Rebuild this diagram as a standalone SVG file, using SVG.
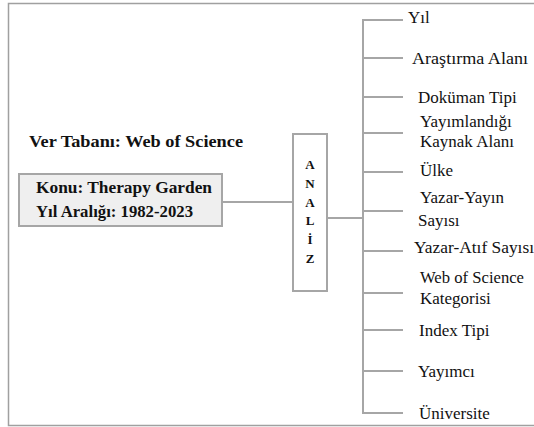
<svg xmlns="http://www.w3.org/2000/svg" width="534" height="427" viewBox="0 0 534 427">
<style>
.ln{stroke:#a6a6a6;stroke-width:2;fill:none}
.bx{stroke:#a6a6a6;stroke-width:2}
text{font-family:'Liberation Serif','DejaVu Serif',serif;fill:#111}
.lb{font-size:17px}
.bd{font-size:16px;font-weight:bold}
.az{font-size:13px;font-weight:bold;text-anchor:middle}
</style>
<rect width="534" height="427" fill="#ffffff"/>
<g id="frame">
<path d="M534 3.5H8.5V425.5H534" fill="none" stroke="#a0a0a0" stroke-width="1.5"/>
</g>
<g id="source">
<text class="bd" x="29" y="147" textLength="214" lengthAdjust="spacingAndGlyphs">Ver Tabanı: Web of Science</text>
</g>
<g id="topic">
<rect class="bx" x="19" y="174" width="203" height="52" fill="#efefef"/>
<text class="bd" x="36" y="193" textLength="176" lengthAdjust="spacingAndGlyphs">Konu: Therapy Garden</text>
<text class="bd" x="36" y="217" textLength="157" lengthAdjust="spacingAndGlyphs">Yıl Aralığı: 1982-2023</text>
</g>
<g id="analiz">
<rect class="bx" x="293" y="134" width="34" height="157" fill="#ffffff"/>
<text class="az" x="310" y="169">A</text>
<text class="az" x="310" y="188">N</text>
<text class="az" x="310" y="207">A</text>
<text class="az" x="310" y="225">L</text>
<text class="az" x="310" y="244">İ</text>
<text class="az" x="310" y="263">Z</text>
</g>
<g id="connectors">
<path class="ln" d="M222 202H293"/>
<path class="ln" d="M327 218H363"/>
<path class="ln" d="M403 20H363V413H403"/>
<path class="ln" d="M363 58H403M363 97H403M363 133H403M363 172H403M363 211H403M363 251H403M363 293H403M363 330H403M363 371H403"/>
</g>
<g id="labels">
<text class="lb" x="408" y="23">Yıl</text>
<text class="lb" x="412" y="64" textLength="116" lengthAdjust="spacingAndGlyphs">Araştırma Alanı</text>
<text class="lb" x="418" y="103">Doküman Tipi</text>
<text class="lb" x="420" y="127">Yayımlandığı</text>
<text class="lb" x="420" y="147">Kaynak Alanı</text>
<text class="lb" x="420" y="176">Ülke</text>
<text class="lb" x="420" y="203">Yazar-Yayın</text>
<text class="lb" x="418" y="226">Sayısı</text>
<text class="lb" x="414" y="253" textLength="120" lengthAdjust="spacingAndGlyphs">Yazar-Atıf Sayısı</text>
<text class="lb" x="420" y="283" textLength="104" lengthAdjust="spacingAndGlyphs">Web of Science</text>
<text class="lb" x="420" y="304">Kategorisi</text>
<text class="lb" x="419" y="336">Index Tipi</text>
<text class="lb" x="418" y="377">Yayımcı</text>
<text class="lb" x="419" y="419">Üniversite</text>
</g>
</svg>
